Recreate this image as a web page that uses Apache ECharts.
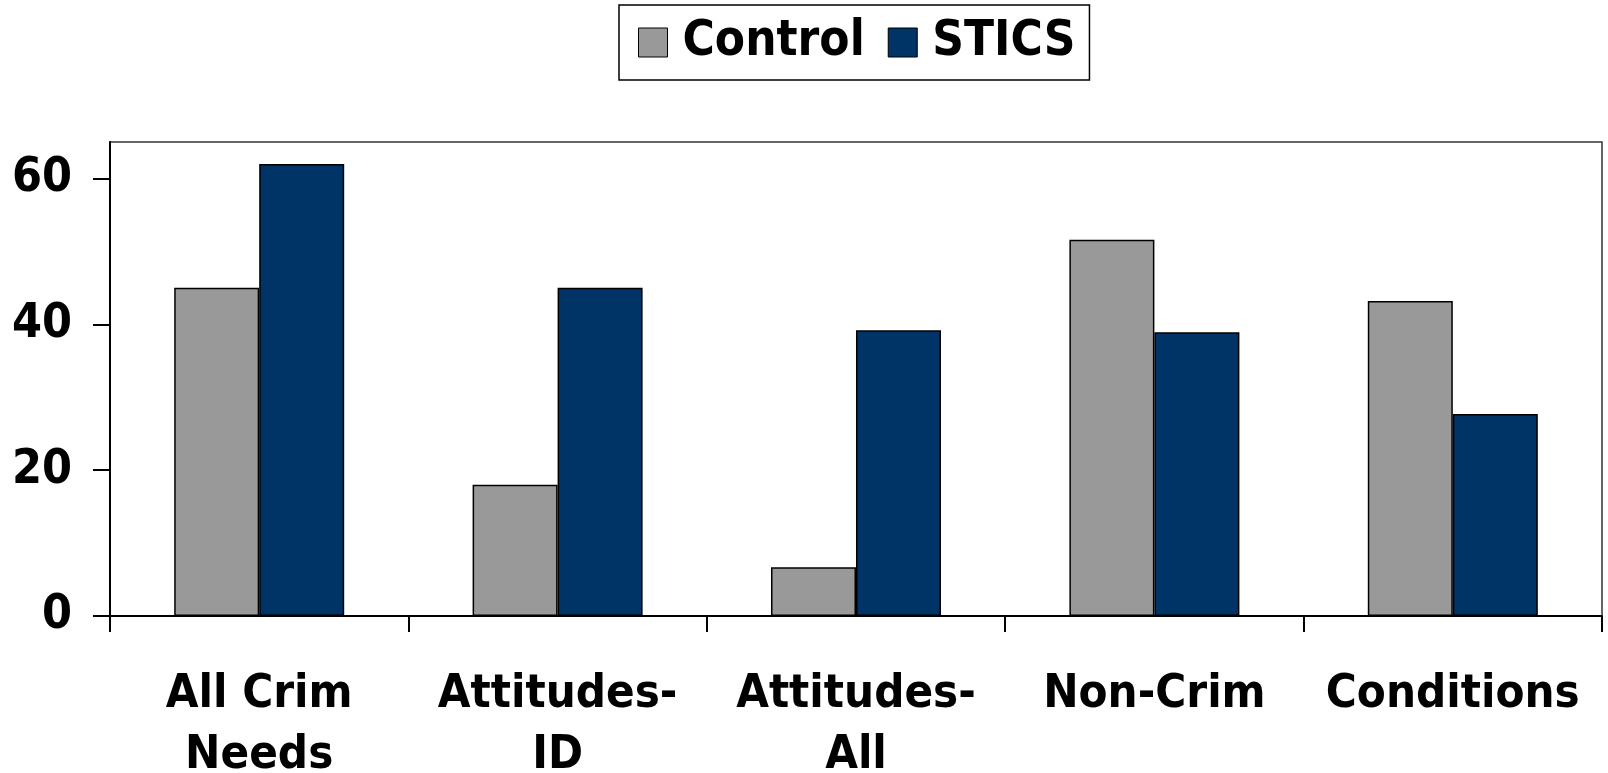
<!DOCTYPE html>
<html>
<head>
<meta charset="utf-8">
<script src="https://cdn.jsdelivr.net/npm/echarts@6/dist/echarts.min.js"></script>
<style>
  html, body { margin: 0; padding: 0; background: #fff; }
  #chart { width: 1608px; height: 773px; }
</style>
</head>
<body>
<div id="chart"></div>
<script>
// Needs categories and the two group scores
const categories = ['All Crim\nNeeds', 'Attitudes-\nID', 'Attitudes-\nAll', 'Non-Crim', 'Conditions'];
const controlValues = [45, 18, 6.7, 51.6, 43.2];
const sticsValues = [62, 45, 39.2, 38.9, 27.7];
const yTicks = [0, 20, 40, 60];

const FONT = "'DejaVu Sans Condensed', 'Liberation Sans', sans-serif";
const textStyle = { fontFamily: FONT, fontWeight: 'bold', fontSize: 47, color: '#000' };

const chart = echarts.init(document.getElementById('chart'), null, { renderer: 'canvas' });

chart.setOption({
  animation: false,
  backgroundColor: '#fff',
  legend: {
    data: ['Control', 'STICS'],
    left: 619,
    top: 5,
    icon: 'rect',
    itemWidth: 29,
    itemHeight: 29,
    itemGap: 23,
    padding: [13, 14, 13, 19],
    borderColor: '#000',
    borderWidth: 1.5,
    textStyle: Object.assign({}, textStyle, { fontSize: 49, padding: [0, 0, 0, 10] }),
    itemStyle: { borderColor: '#000', borderWidth: 1 }
  },
  grid: {
    left: 110,
    right: 6,
    top: 142,
    bottom: 157,
    show: true,
    borderColor: '#333',
    borderWidth: 1.5,
    containLabel: false,
    outerBoundsMode: 'none'
  },
  xAxis: {
    type: 'category',
    data: categories,
    axisLine: { show: true, lineStyle: { color: '#000', width: 2 } },
    axisTick: { show: true, length: 16, lineStyle: { color: '#000', width: 2 } },
    axisLabel: Object.assign({}, textStyle, { margin: 48, lineHeight: 61, interval: 0 })
  },
  yAxis: {
    type: 'value',
    min: 0,
    max: 65,
    interval: 20,
    splitLine: { show: false },
    axisLine: { show: true, lineStyle: { color: '#000', width: 2 } },
    axisTick: { show: true, length: 17, customValues: yTicks, lineStyle: { color: '#000', width: 2 } },
    axisLabel: Object.assign({}, textStyle, { fontSize: 48, margin: 38, customValues: yTicks })
  },
  series: [
    {
      name: 'Control',
      type: 'bar',
      data: controlValues,
      barWidth: 85,
      barGap: '0%',
      itemStyle: { color: '#999999', borderColor: '#000', borderWidth: 1.5 }
    },
    {
      name: 'STICS',
      type: 'bar',
      data: sticsValues,
      barWidth: 85,
      barGap: '0%',
      itemStyle: { color: '#003366', borderColor: '#000', borderWidth: 1.5 }
    }
  ]
});
</script>
</body>
</html>
